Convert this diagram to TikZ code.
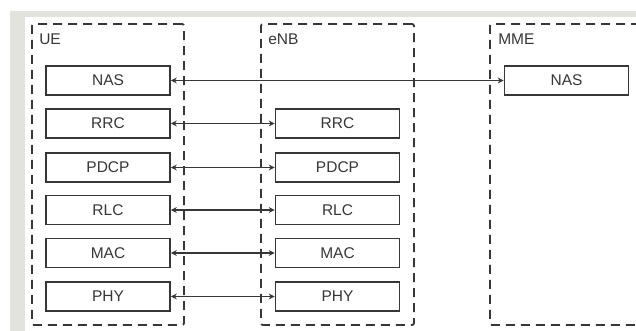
\documentclass[tikz,border=0pt]{standalone}
\usepackage{fontspec}
\setmainfont{Liberation Sans}
\usetikzlibrary{positioning,arrows.meta}
\definecolor{frame}{RGB}{226,228,220}
\definecolor{ink}{RGB}{55,55,55}

\begin{document}
\begin{tikzpicture}[x=1pt, y=-1pt, font=\fontsize{15.5}{18}\selectfont, >={Stealth[length=6pt, width=6pt]},
  grp/.style={draw=ink, line width=1.8pt, dash pattern=on 9pt off 6pt, rounded corners=2pt, minimum width=152pt, minimum height=301pt, inner sep=0pt},
  layer/.style={draw=ink, line width=1.7pt, fill=white, minimum width=124pt, minimum height=29pt, inner sep=0pt, text=ink},
  lbl/.style={anchor=north west, inner sep=0pt, text=ink},
  link/.style={<->, draw=ink, line width=1.5pt}]
\clip (0,0) rectangle (636,331);
\fill[frame] (10,11) rectangle (636,331);
\fill[white] (25,17) rectangle (636,331);
% entities
\node[grp] (ue) at (108,174.5) {};
\node[grp, minimum width=153pt] (enb) at (337.5,174.5) {};
\node[grp] (mme) at (566,174.5) {};
\node[lbl] (uelbl) at ([xshift=8pt, yshift=-11pt]ue.north west) {UE};
\node[lbl] (enblbl) at ([xshift=8pt, yshift=-11pt]enb.north west) {eNB};
\node[lbl] (mmelbl) at ([xshift=9pt, yshift=-11pt]mme.north west) {MME};
% UE stack
\node[layer] (uenas) at (108,80.5) {NAS};
\node[layer] (uerrc) at (108,123.5) {RRC};
\node[layer] (uepdcp) at (108,167.5) {PDCP};
\node[layer] (uerlc) at (108,210) {RLC};
\node[layer] (uemac) at (108,253) {MAC};
\node[layer] (uephy) at (108,296.5) {PHY};
% eNB stack
\node[layer] (enbrrc) at (337.5,123.5) {RRC};
\node[layer] (enbpdcp) at (337.5,167.5) {PDCP};
\node[layer] (enbrlc) at (337.5,210) {RLC};
\node[layer] (enbmac) at (337.5,253) {MAC};
\node[layer] (enbphy) at (337.5,296.5) {PHY};
% MME
\node[layer] (mmenas) at (566.5,80.5) {NAS};
% peer links
\draw[link] (uenas.east) -- (mmenas.west);
\draw[link] (uerrc.east) -- (enbrrc.west);
\draw[link] (uepdcp.east) -- (enbpdcp.west);
\draw[link] (uerlc.east) -- (enbrlc.west);
\draw[link] (uemac.east) -- (enbmac.west);
\draw[link] (uephy.east) -- (enbphy.west);
\end{tikzpicture}
\end{document}
